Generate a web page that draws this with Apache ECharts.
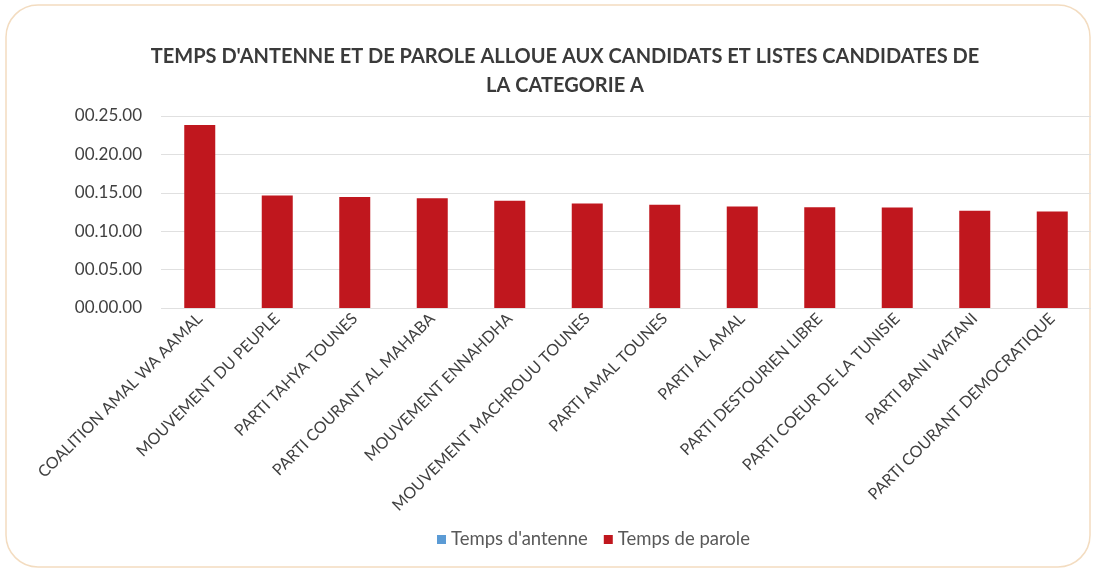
<!DOCTYPE html>
<html>
<head>
<meta charset="utf-8">
<script src="https://cdn.jsdelivr.net/npm/echarts@6/dist/echarts.min.js"></script>
<style>
html,body{margin:0;padding:0;background:#fff;}
#c{width:1096px;height:571px;}
</style>
</head>
<body>
<div id="c"></div>
<script>
var titleText = "TEMPS D'ANTENNE ET DE PAROLE ALLOUE AUX CANDIDATS ET LISTES CANDIDATES DE\nLA CATEGORIE A";
var categories = [
  "COALITION AMAL WA AAMAL",
  "MOUVEMENT DU PEUPLE",
  "PARTI TAHYA TOUNES",
  "PARTI COURANT AL MAHABA",
  "MOUVEMENT ENNAHDHA",
  "MOUVEMENT MACHROUU TOUNES",
  "PARTI AMAL TOUNES",
  "PARTI AL AMAL",
  "PARTI DESTOURIEN LIBRE",
  "PARTI COEUR DE LA TUNISIE",
  "PARTI BANI WATANI",
  "PARTI COURANT DEMOCRATIQUE"
];
var seriesNames = ["Temps d'antenne", "Temps de parole"];
// values in seconds
var tempsAntenne = [0, 0, 0, 0, 0, 0, 0, 0, 0, 0, 0, 0];
var tempsParole = [1430, 878, 868, 858, 837, 816, 806, 793, 788, 785, 759, 754];

function fmt(v) {
  var h = Math.floor(v / 3600), m = Math.floor((v % 3600) / 60), s = Math.round(v % 60);
  function p(n){ return (n < 10 ? '0' : '') + n; }
  return p(h) + '.' + p(m) + '.' + p(s);
}

var chart = echarts.init(document.getElementById('c'));
chart.setOption({
  backgroundColor: '#fff',
  animation: false,
  graphic: [{
    type: 'rect', silent: true, z: -10,
    shape: { x: 6, y: 5, width: 1084, height: 562, r: 32 },
    style: { fill: '#fff', stroke: '#f3dcc0', lineWidth: 1.5 }
  }],
  title: {
    text: titleText,
    left: 560, top: 37, textAlign: 'center',
    textStyle: { fontFamily: 'Lato', fontSize: 20, fontWeight: 'bold', color: '#3a3a3a', lineHeight: 29 }
  },
  legend: {
    top: 525, left: 432,
    itemWidth: 9, itemHeight: 9, itemGap: 16,
    icon: 'rect',
    textStyle: { fontFamily: 'Lato', fontSize: 18.5, color: '#595959' },
    data: seriesNames
  },
  grid: { left: 161, right: 5, top: 116, bottom: 263, containLabel: false },
  xAxis: {
    type: 'category', data: categories,
    axisLine: { show: false }, axisTick: { show: false },
    axisLabel: { rotate: 45, interval: 0, margin: 8, fontFamily: 'Lato', fontSize: 16, color: '#404040' }
  },
  yAxis: {
    type: 'value', min: 0, max: 1500, interval: 300,
    axisLabel: { formatter: fmt, margin: 19, fontFamily: 'Lato', fontSize: 17, color: '#404040' },
    splitLine: { lineStyle: { color: '#e0e0e0', width: 1 } },
    axisLine: { show: false }, axisTick: { show: false }
  },
  series: [
    { name: seriesNames[0], type: 'bar', data: tempsAntenne, barWidth: 31, barGap: '-100%', itemStyle: { color: '#5b9bd5' } },
    { name: seriesNames[1], type: 'bar', data: tempsParole, barWidth: 31, itemStyle: { color: '#c0171e' } }
  ]
});
</script>
</body>
</html>
